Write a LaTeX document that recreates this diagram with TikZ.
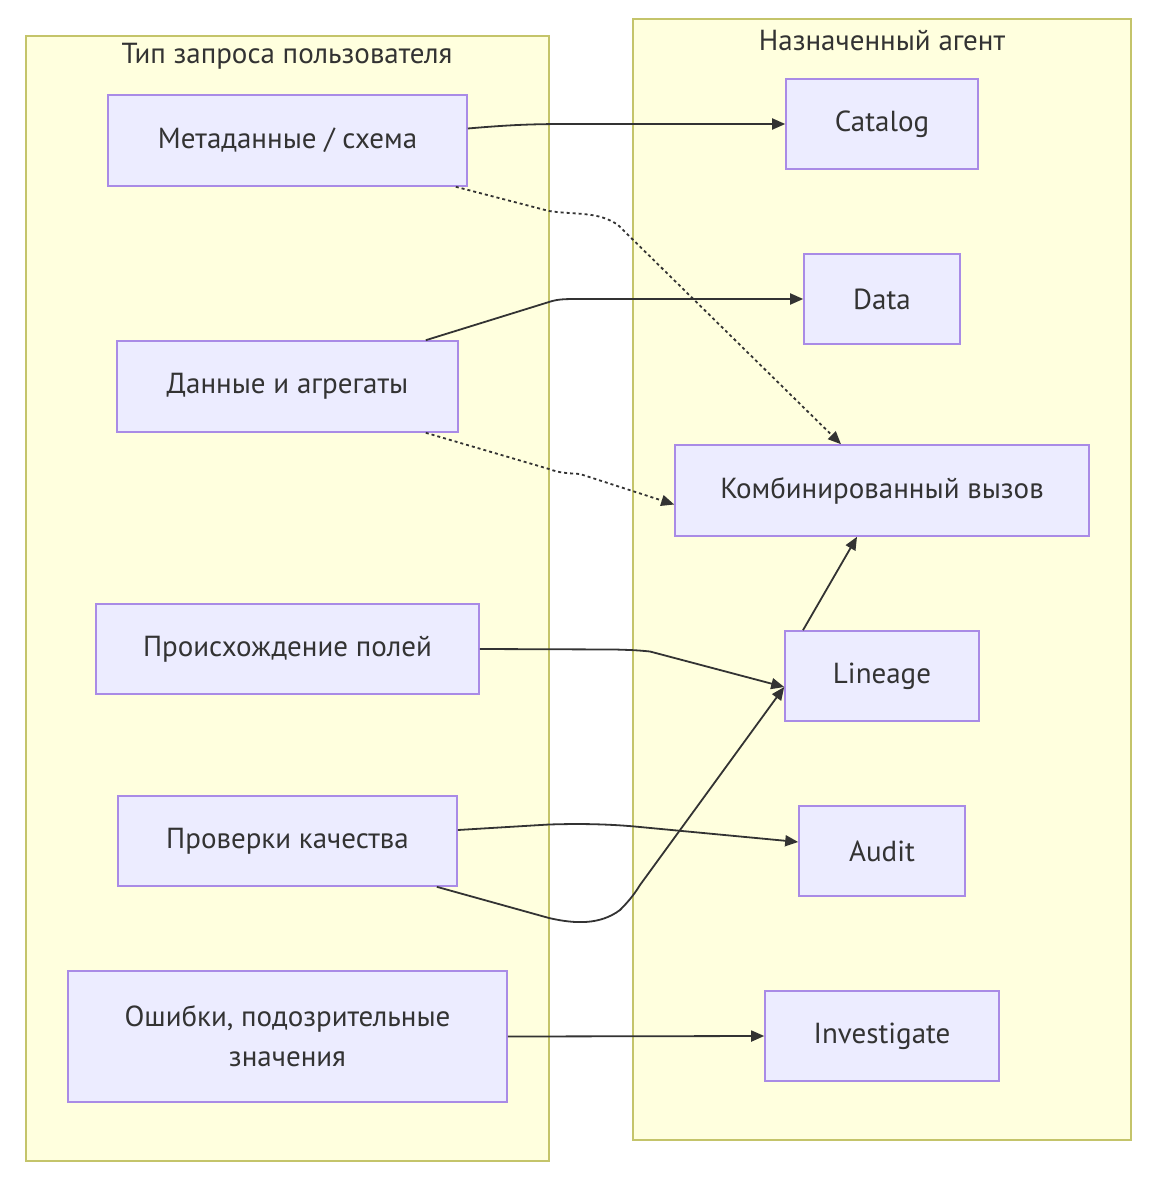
\documentclass[tikz,border=0pt]{standalone}
\usepackage{fontspec}
\setmainfont{PT Sans}
\usetikzlibrary{arrows.meta}
\definecolor{clfill}{HTML}{FFFFDE}
\definecolor{clline}{HTML}{C4C46A}
\definecolor{ndfill}{HTML}{ECECFF}
\definecolor{ndline}{HTML}{A98BE6}
\definecolor{edgec}{HTML}{333333}
\tikzset{
  cluster/.style={draw=clline, fill=clfill, line width=2pt},
  box/.style={draw=ndline, fill=ndfill, line width=1.6pt, inner sep=0pt, align=center,
     font=\fontsize{29}{40}\selectfont, text=edgec},
  ttl/.style={font=\fontsize{29}{30}\selectfont, text=edgec, inner sep=0pt},
  edge/.style={draw=edgec, line width=1.8pt, -{Triangle[length=13pt,width=11pt]}},
  dotedge/.style={edge, dash pattern=on 3pt off 3pt},
}
\begin{document}
\begin{tikzpicture}[x=1pt,y=-1pt]
\useasboundingbox (0,0) rectangle (1158,1178);
\fill[white] (0,0) rectangle (1158,1178);
% clusters
\draw[cluster] (26,36) rectangle (549,1161);
\draw[cluster] (633,19) rectangle (1131,1140);
\node[ttl] (tleft) at (287,56) {Тип запроса пользователя};
\node[ttl] (tright) at (882,40) {Назначенный агент};
% left nodes
\node[box, minimum width=359pt, minimum height=91pt] (meta) at (287.5,140.5) {Метаданные / схема};
\node[box, minimum width=341pt, minimum height=91pt] (dagg) at (287.5,386.5) {Данные и агрегаты};
\node[box, minimum width=383pt, minimum height=90pt] (prov) at (287.5,649) {Происхождение полей};
\node[box, minimum width=339pt, minimum height=90pt] (qual) at (287.5,841) {Проверки качества};
\node[box, minimum width=439pt, minimum height=131pt] (err) at (287.5,1036.5) {Ошибки, подозрительные\\значения};
% right nodes
\node[box, minimum width=192pt, minimum height=90pt] (cat) at (882,124) {Catalog};
\node[box, minimum width=156pt, minimum height=90pt] (data) at (882,299) {Data};
\node[box, minimum width=414pt, minimum height=91pt] (comb) at (882,490.5) {Комбинированный вызов};
\node[box, minimum width=194pt, minimum height=90pt] (lin) at (882,676) {Lineage};
\node[box, minimum width=166pt, minimum height=90pt] (aud) at (882,851) {Audit};
\node[box, minimum width=234pt, minimum height=90pt] (inv) at (882,1036) {Investigate};
% edges
\draw[edge] ([yshift=12pt]meta.east) .. controls (520,124) and (540,124) .. (580,124) -- (cat.west);
\draw[dotedge] ([xshift=-12pt]meta.south east) -- (549,211) .. controls (575,215) and (598,211) .. (618,225) -- ([xshift=-41pt]comb.north);
\draw[edge] ([xshift=-33pt]dagg.north east) -- (549,302) .. controls (558,299) and (565,299) .. (580,299) -- (data.west);
\draw[dotedge] ([xshift=-33pt]dagg.south east) -- (549,469) .. controls (560,473) and (565,473) .. (580,474) -- ([yshift=-14pt]comb.west);
\draw[edge] (prov.east) -- (615,649.5) .. controls (630,650) and (635,650) .. (650,651.5) -- ([yshift=-11pt]lin.west);
\draw[edge] ([yshift=11pt]qual.east) -- (549,824.5) .. controls (580,823.5) and (610,824) .. (640,827) -- ([yshift=9pt]aud.west);
\draw[edge] ([xshift=-21pt]qual.south east) -- (549,918) .. controls (575,924) and (600,925) .. (620,910) .. controls (630,900) and (635,893) .. (640,885) -- ([yshift=-11pt]lin.west);
\draw[edge] ([xshift=-79pt]lin.north) -- ([xshift=-25pt]comb.south);
\draw[edge] (err.east) -- (inv.west);
\end{tikzpicture}
\end{document}
